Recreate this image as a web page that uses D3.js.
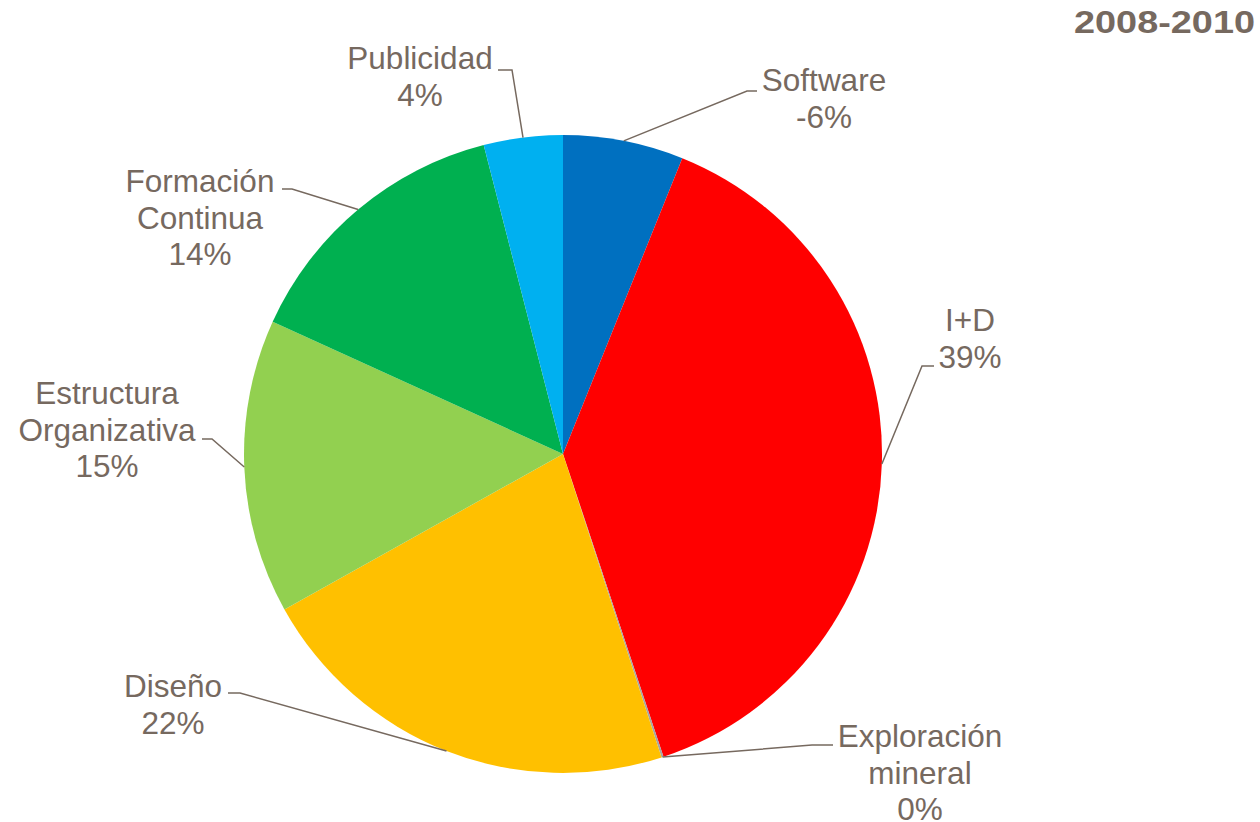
<!DOCTYPE html>
<html>
<head>
<meta charset="utf-8">
<script src="https://cdn.jsdelivr.net/npm/d3@7/dist/d3.min.js"></script>
<style>
  html, body { margin: 0; padding: 0; background: #ffffff; }
  svg { display: block; }
  text { font-family: "Liberation Sans", Arial, sans-serif; fill: #76695F; }
</style>
</head>
<body>
<svg id="chart" width="1260" height="822"></svg>
<script>
// ---- data ----
const categories = ["Software", "I+D", "Exploración mineral", "Diseño", "Estructura Organizativa", "Formación Continua", "Publicidad"];
const values = [6.1, 38.8, 0.1, 21.9, 14.9, 14.2, 4.0];
const percentLabels = ["-6%", "39%", "0%", "22%", "15%", "14%", "4%"];
const labelLines = [["Software"], ["I+D"], ["Exploración", "mineral"], ["Diseño"], ["Estructura", "Organizativa"], ["Formación", "Continua"], ["Publicidad"]];
const colors = ["#0070C0", "#FF0000", "#A5A5A5", "#FFC000", "#92D050", "#00B050", "#00B0F0"];
const title = "2008-2010";

// ---- layout (label placement relative to pie centre) ----
const cx = 563, cy = 454, radius = 319;
// [elbowX, elbowY, lineEndX, textCenterX, firstBaselineY]
const labelLayout = [
  [184, -363, 194, 261, -363],
  [359, -88, 371, 407, -123],
  [249, 291, 270, 357, 293],
  [-323, 239, -335, -390, 243],
  [-351, -15, -361, -456, -50],
  [-271, -265, -281, -363, -262],
  [-51, -384, -65, -143, -385]
];
const lineHeight = 36.5;

const svg = d3.select("#chart");
const g = svg.append("g").attr("transform", `translate(${cx},${cy})`);

const pie = d3.pie().sort(null).value(d => d);
const arcs = pie(values);
const arc = d3.arc().innerRadius(0).outerRadius(radius);

g.selectAll("path.slice")
  .data(arcs)
  .join("path")
  .attr("class", "slice")
  .attr("d", arc)
  .attr("fill", (d, i) => colors[i]);

// leader lines
g.selectAll("polyline.leader")
  .data(arcs)
  .join("polyline")
  .attr("class", "leader")
  .attr("fill", "none")
  .attr("stroke", "#76695F")
  .attr("stroke-width", 1.5)
  .attr("points", (d, i) => {
    const a = (d.startAngle + d.endAngle) / 2;
    const sx = Math.sin(a) * radius, sy = -Math.cos(a) * radius;
    const L = labelLayout[i];
    return [[sx, sy], [L[0], L[1]], [L[2], L[1]]].map(p => p.join(",")).join(" ");
  });

// labels
const labelG = g.selectAll("text.label")
  .data(arcs)
  .join("text")
  .attr("class", "label")
  .attr("text-anchor", "middle")
  .attr("font-size", 31.5);

labelG.each(function(d, i) {
  const L = labelLayout[i];
  const lines = labelLines[i].concat([percentLabels[i]]);
  d3.select(this).selectAll("tspan")
    .data(lines)
    .join("tspan")
    .attr("x", L[3])
    .attr("y", (t, j) => L[4] + j * lineHeight)
    .text(t => t);
});

svg.append("text")
  .attr("x", 1074)
  .attr("y", 33)
  .attr("font-size", 31)
  .attr("font-weight", "bold")
  .attr("textLength", 181)
  .attr("lengthAdjust", "spacingAndGlyphs")
  .text(title);
</script>
</body>
</html>
